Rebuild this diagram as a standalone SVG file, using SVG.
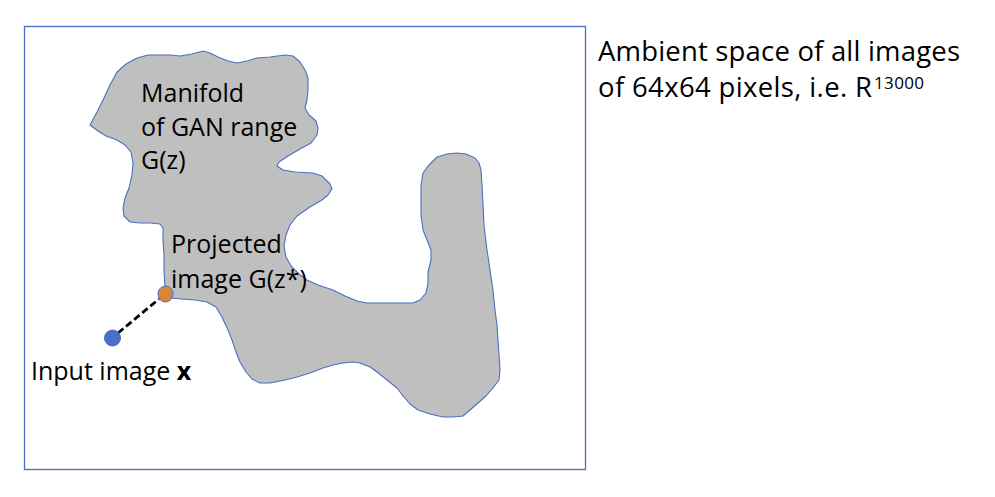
<svg xmlns="http://www.w3.org/2000/svg" width="995" height="497" viewBox="0 0 995 497">
<style>
.t{font-family:"Open Sans",Lato,"Liberation Sans",sans-serif;font-size:25px;fill:#000}
.big{font-size:27.5px}
.sup{font-size:17px}
.frame{fill:none;stroke:#4A6FC2;stroke-width:1.3}
.blob{fill:#BFBFBF;stroke:#4A6FC2;stroke-width:1.1;stroke-linejoin:round}
</style>
<rect width="995" height="497" fill="#fff"/>
<g id="ambient-space">
<rect class="frame" x="24.5" y="26.5" width="561" height="443"/>
<text class="t big" x="598" y="61" textLength="362">Ambient space of all images</text>
<text class="t big" x="598" y="97" textLength="274">of 64x64 pixels, i.e. R</text>
<text class="t sup" x="874" y="89" textLength="50">13000</text>
</g>
<g id="manifold">
<polygon class="blob" points="90,125 97,112 104,98 110,85 117,72 126,64 137,58 148,55 160,55 170,55 180,56 192,54 203,51 210,53 218,57 228,61 237,63 247,61 257,58 270,57 285,55 293,56 300,62 305,70 308,78 308,90 307,100 305,108 309,115 316,121 318,128 317,135 311,143 300,149 288,156 279,162 277,166 283,170 295,172 313,173 322,176 330,184 332,189 328,195 322,200 310,207 297,216 290,225 286,235 284,246 286,257 291,266 299,274 307,280 318,285 333,290 345,296 357,301 367,303 385,303 400,303 413,303 420,300 426,293 428,283 428,272 431,260 431,250 427,240 423,230 421,215 421,200 421,185 423,173 428,166 437,157 447,154 457,153 466,154 475,158 479,163 481,170 482,185 483,205 484,225 487,250 490,270 493,290 495,310 497,325 498,340 499,355 500,370 499,380 493,388 486,396 478,403 470,410 463,416 453,417 443,417 430,414 418,410 410,404 403,396 397,388 387,380 377,372 370,367 360,363 353,362 343,363 333,365 323,368 310,373 297,377 285,380 270,383 260,383 252,379 246,372 240,362 236,352 232,340 228,330 222,317 216,307 207,302 195,300 182,299 170,298 166,294 165,287 164,270 164,255 163,240 163,228 160,224 150,223 140,223 130,222 124,216 123,208 125,198 129,188 132,175 133,163 131,152 125,145 117,140 106,136 98,131"/>
<text class="t" x="141" y="102">Manifold</text>
<text class="t" x="141" y="135.5">of GAN range</text>
<text class="t" x="141" y="169">G(z)</text>
</g>
<g id="connectors">
<line x1="118" y1="333" x2="159" y2="299" stroke="#000" stroke-width="2.8" stroke-dasharray="7 3.5"/>
</g>
<g id="projected-image">
<ellipse cx="165.5" cy="294" rx="7.5" ry="8" fill="#D8863C" stroke="#4A6FC2" stroke-width="1"/>
<text class="t" x="171" y="253">Projected</text>
<text class="t" x="171" y="288">image G(z*)</text>
</g>
<g id="input-image">
<ellipse cx="112.5" cy="338" rx="8" ry="8" fill="#4A6FC8" stroke="#4A6FC2" stroke-width="1"/>
<text class="t" x="31" y="380">Input image <tspan font-weight="bold">x</tspan></text>
</g>
</svg>
